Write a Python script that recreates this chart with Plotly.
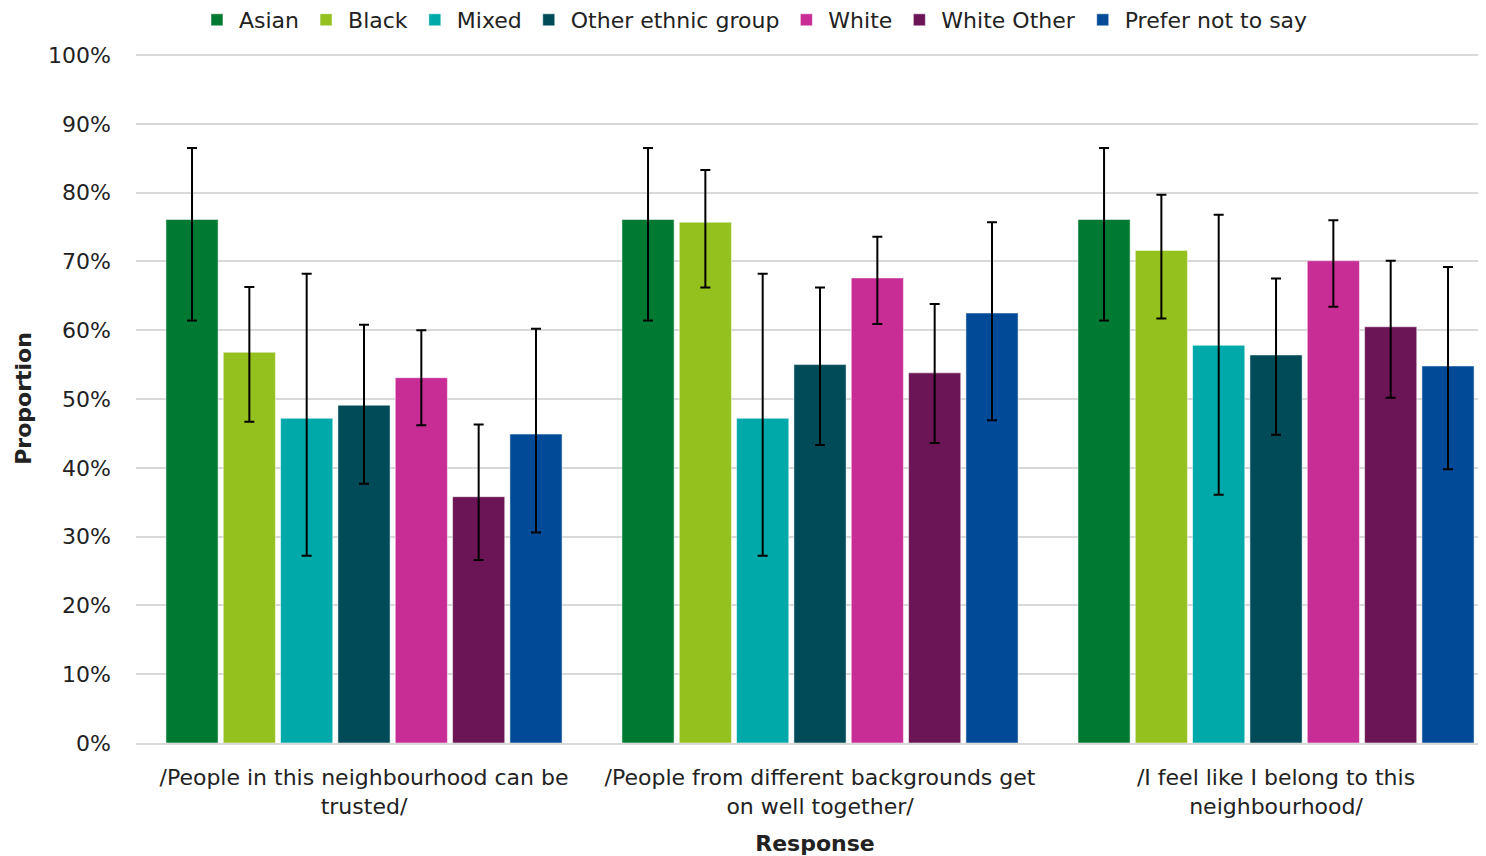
import plotly.graph_objects as go

categories = [
    "/People in this neighbourhood can be<br>trusted/",
    "/People from different backgrounds get<br>on well together/",
    "/I feel like I belong to this<br>neighbourhood/",
]

series_names = ["Asian", "Black", "Mixed", "Other ethnic group", "White", "White Other", "Prefer not to say"]
colors = ["#007A33", "#95C11F", "#00A9A9", "#004B57", "#C82D96", "#6B1456", "#004A98"]

asian = [76.1, 76.1, 76.1]
black = [56.8, 75.7, 71.6]
mixed = [47.2, 47.2, 57.8]
other = [49.1, 55.0, 56.4]
white = [53.1, 67.6, 70.1]
white_other = [35.8, 53.8, 60.5]
prefer = [44.9, 62.5, 54.8]

asian_hi = [86.5, 86.5, 86.5]
black_hi = [66.3, 83.3, 79.7]
mixed_hi = [68.2, 68.2, 76.8]
other_hi = [60.8, 66.2, 67.5]
white_hi = [60.0, 73.6, 76.0]
white_other_hi = [46.3, 63.8, 70.1]
prefer_hi = [60.2, 75.7, 69.2]

asian_lo = [61.4, 61.4, 61.4]
black_lo = [46.7, 66.2, 61.7]
mixed_lo = [27.2, 27.2, 36.1]
other_lo = [37.7, 43.3, 44.8]
white_lo = [46.2, 60.9, 63.4]
white_other_lo = [26.6, 43.6, 50.2]
prefer_lo = [30.6, 46.9, 39.8]

values = [asian, black, mixed, other, white, white_other, prefer]
highs = [asian_hi, black_hi, mixed_hi, other_hi, white_hi, white_other_hi, prefer_hi]
lows = [asian_lo, black_lo, mixed_lo, other_lo, white_lo, white_other_lo, prefer_lo]

FONT = "DejaVu Sans"
TXT = "#222222"

fig = go.Figure()
for name, col, v, hi, lo in zip(series_names, colors, values, highs, lows):
    vv = [x / 100 for x in v]
    up = [(h - x) / 100 for h, x in zip(hi, v)]
    dn = [(x - l) / 100 for x, l in zip(v, lo)]
    fig.add_trace(go.Bar(
        name=name, x=categories, y=vv,
        marker=dict(color=col, line=dict(width=1, color="rgba(255,255,255,0.5)")),
        error_y=dict(type="data", symmetric=False, array=up, arrayminus=dn,
                     color="black", thickness=2, width=5),
    ))

fig.update_layout(
    width=1486, height=856,
    paper_bgcolor="white", plot_bgcolor="white",
    barmode="group", bargap=0.12, bargroupgap=0.09,
    margin=dict(l=128, r=0, t=46, b=121, autoexpand=False),
    font=dict(family=FONT, size=22, color=TXT),
    legend=dict(orientation="h", xref="container", x=0.502, xanchor="center",
                yref="container", y=0.986, yanchor="middle",
                font=dict(family=FONT, size=22, color=TXT),
                itemwidth=34, tracegroupgap=0, traceorder="normal"),
    showlegend=True,
)
fig.update_xaxes(
    range=[-0.5, 2.478], showgrid=False, showline=True, linecolor="#d9d9d9", linewidth=1.5,
    ticks="", tickfont=dict(family=FONT, size=22, color=TXT), automargin=False,
    ticklabelstandoff=14,
    title=dict(text="<b>Response</b>", font=dict(family=FONT, size=22, color=TXT), standoff=18),
)
fig.update_yaxes(
    range=[0, 1.0015], tickformat=".0%", dtick=0.1, showgrid=True, gridcolor="#d9d9d9", gridwidth=1.5,
    zeroline=False, ticks="", tickfont=dict(family=FONT, size=22, color=TXT), automargin=False,
    ticklabelstandoff=24,
    title=dict(text="<b>Proportion</b>", font=dict(family=FONT, size=22, color=TXT), standoff=10),
)

fig.write_html("out.html")
